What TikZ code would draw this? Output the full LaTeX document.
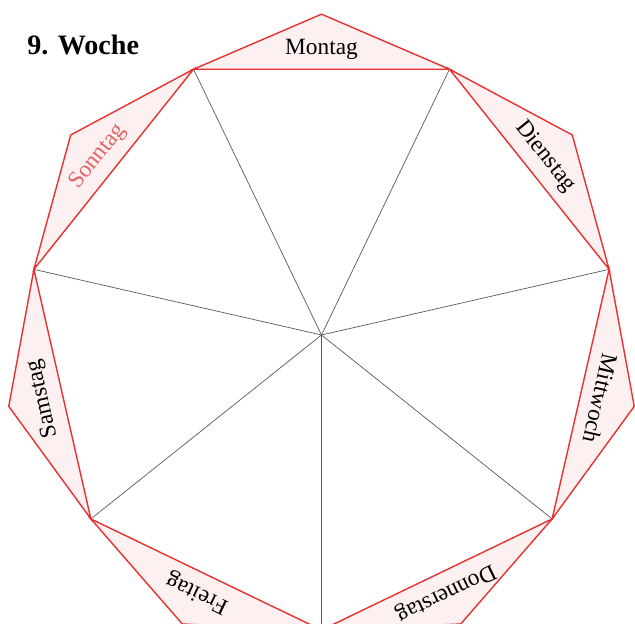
\documentclass[tikz,border=0pt]{standalone}
\usepackage{fontspec}
\setmainfont{Liberation Serif}
\definecolor{tabred}{RGB}{230,50,50}
\definecolor{tabfill}{RGB}{253,240,240}
\definecolor{sunred}{RGB}{226,100,100}
\tikzset{
  tab/.style={draw=tabred, fill=tabfill, line width=1pt, line join=miter},
  spoke/.style={draw=black!65, line width=0.5pt},
  day/.style={inner sep=0pt, font=\fontsize{16.6}{19}\selectfont}
}

\begin{document}
\begin{tikzpicture}
  \useasboundingbox (-8.0375,-7.225) rectangle (7.8375,8.375);
  \node[anchor=base west, inner sep=0pt, font=\bfseries\fontsize{20}{24}\selectfont] (title) at (-7.36, 7.0) {9. Woche};

  \coordinate (c) at (0,0);
  \foreach \d/\col [count=\i from 0] in {Montag/black, Dienstag/black, Mittwoch/black, Donnerstag/black, Freitag/black, Samstag/black, Sonntag/sunred} {
    \pgfmathsetmacro\a{90-51.4286*\i}
    \coordinate (v\i) at (\a+25.7143:7.375);
    \coordinate (w\i) at (\a-25.7143:7.375);
    \coordinate (t\i) at (\a:8.02);
    \draw[spoke] (c) -- (v\i);
  }
  \foreach \d/\col [count=\i from 0] in {Montag/black, Dienstag/black, Mittwoch/black, Donnerstag/black, Freitag/black, Samstag/black, Sonntag/sunred} {
    \pgfmathsetmacro\a{90-51.4286*\i}
    \filldraw[tab] (v\i) -- (t\i) -- (w\i) -- cycle;
    \node[day, text=\col, rotate=\a-90] (d\i) at (\a:7.15) {\d};
  }
\end{tikzpicture}
\end{document}
